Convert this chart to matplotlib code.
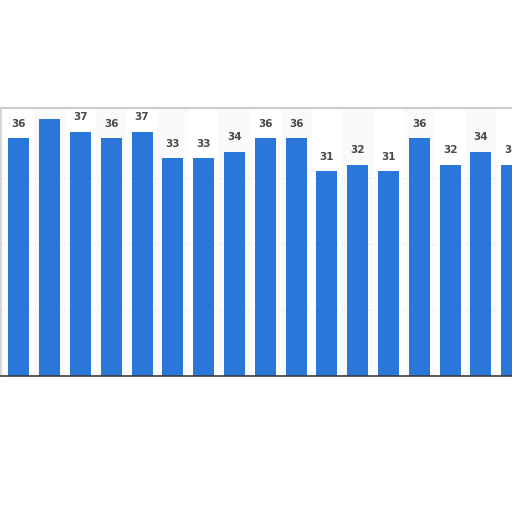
import numpy as np
import matplotlib
matplotlib.use("Agg")
import matplotlib.pyplot as plt

# values (second bar has its label clipped by the frame)
values = [36, 39, 37, 36, 37, 33, 33, 34, 36, 36, 31, 32, 31, 36, 32, 34, 32]
labels = ["36", "", "37", "36", "37", "33", "33", "34", "36", "36",
          "31", "32", "31", "36", "32", "34", "32"]
gridlines = [10, 20, 30]

bar_color = "#2a77d9"
text_color = "#4a4a4a"

fig = plt.figure(figsize=(5.12, 5.12), dpi=100)
ax = fig.add_axes((1 / 512, 1 - 376 / 512, 1.0, (376 - 108) / 512))

x = np.arange(len(values))
ax.set_xlim(-0.578, 16.04)
ax.set_ylim(0, 40.6)

# faint alternating column bands
for i in x[1::2]:
    ax.axvspan(i - 0.5, i + 0.5, color="#fafafa", zorder=0, lw=0)

for g in gridlines:
    ax.axhline(g, color="#e2e2e2", lw=0.8, ls=(0, (1, 2)), zorder=1)

bars = ax.bar(x, values, width=0.68, color=bar_color, zorder=2)

for b, lab in zip(bars, labels):
    if lab:
        ax.text(b.get_x() + b.get_width() / 2, b.get_height() + 1.45, lab,
                ha="center", va="bottom", fontsize=7.5, fontweight="bold",
                color=text_color, zorder=3)

ax.set_xticks([])
ax.set_yticks([])
ax.spines["right"].set_visible(False)
ax.spines["top"].set_color("#cccccc")
ax.spines["top"].set_linewidth(1.6)
ax.spines["left"].set_color("#d6d6d6")
ax.spines["left"].set_linewidth(1.6)
ax.spines["bottom"].set_color("#3a3a3a")
ax.spines["bottom"].set_linewidth(1.2)

fig.savefig("out.png", dpi=100)
